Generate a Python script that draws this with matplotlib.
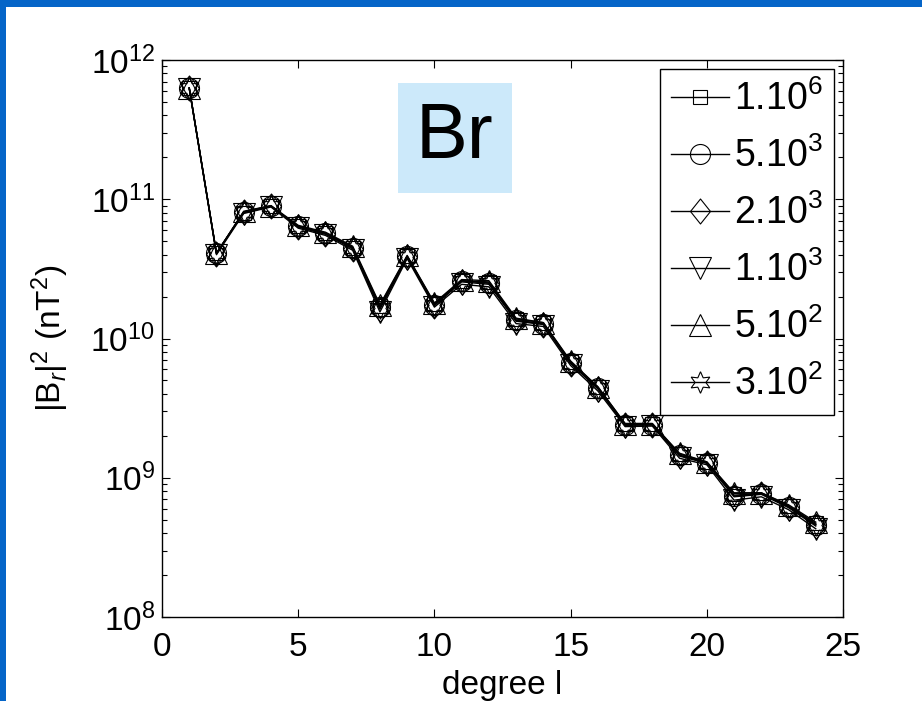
import numpy as np
import matplotlib
matplotlib.use("Agg")
import matplotlib.pyplot as plt
from matplotlib.patches import Rectangle
from matplotlib.path import Path

plt.rcParams['font.family'] = ['Liberation Sans', 'DejaVu Sans']
plt.rcParams['mathtext.fontset'] = 'custom'
plt.rcParams['mathtext.rm'] = 'Liberation Sans'
plt.rcParams['mathtext.it'] = 'Liberation Sans:italic'
plt.rcParams['mathtext.bf'] = 'Liberation Sans:bold'

# spherical harmonic degree
degree = np.arange(1, 25)

# |Br|^2 spectra (nT^2) for each damping value
br_1e6 = [6.3e11, 4.1e10, 8.0e10, 8.9e10, 6.4e10, 5.7e10, 4.5e10, 1.72e10, 3.9e10, 1.78e10, 2.6e10, 2.55e10,
          1.38e10, 1.30e10, 6.8e9, 4.5e9, 2.45e9, 2.45e9, 1.48e9, 1.30e9, 7.7e8, 7.8e8, 6.3e8, 4.7e8]
br_5e3 = [6.3e11, 4.1e10, 8.1e10, 8.9e10, 6.4e10, 5.7e10, 4.5e10, 1.68e10, 3.9e10, 1.75e10, 2.6e10, 2.5e10,
          1.35e10, 1.28e10, 6.7e9, 4.4e9, 2.4e9, 2.4e9, 1.45e9, 1.28e9, 7.4e8, 7.7e8, 6.2e8, 4.6e8]
br_2e3 = [6.3e11, 4.05e10, 8.1e10, 9.0e10, 6.3e10, 5.6e10, 4.4e10, 1.62e10, 3.85e10, 1.72e10, 2.55e10, 2.45e10,
          1.33e10, 1.26e10, 6.6e9, 4.35e9, 2.38e9, 2.4e9, 1.43e9, 1.27e9, 7.3e8, 7.6e8, 6.1e8, 4.5e8]
br_1e3 = [6.2e11, 4.0e10, 7.9e10, 8.8e10, 6.2e10, 5.5e10, 4.3e10, 1.55e10, 3.75e10, 1.68e10, 2.45e10, 2.35e10,
          1.28e10, 1.22e10, 6.4e9, 4.2e9, 2.33e9, 2.35e9, 1.38e9, 1.24e9, 6.9e8, 7.3e8, 5.9e8, 4.3e8]
br_5e2 = [6.3e11, 4.1e10, 8.2e10, 9.0e10, 6.5e10, 5.8e10, 4.6e10, 1.75e10, 3.95e10, 1.8e10, 2.65e10, 2.6e10,
          1.4e10, 1.3e10, 6.9e9, 4.5e9, 2.45e9, 2.45e9, 1.5e9, 1.3e9, 7.8e8, 7.8e8, 6.4e8, 4.8e8]
br_3e2 = [6.3e11, 4.1e10, 8.1e10, 8.9e10, 6.4e10, 5.7e10, 4.5e10, 1.65e10, 3.85e10, 1.75e10, 2.6e10, 2.5e10,
          1.35e10, 1.27e10, 6.7e9, 4.4e9, 2.4e9, 2.4e9, 1.45e9, 1.28e9, 7.5e8, 7.7e8, 6.2e8, 4.6e8]

labels = ['1.10$^6$', '5.10$^3$', '2.10$^3$', '1.10$^3$', '5.10$^2$', '3.10$^2$']
series = [br_1e6, br_5e3, br_2e3, br_1e3, br_5e2, br_3e2]

diamond = Path([(0, 1), (0.8, 0), (0, -1), (-0.8, 0), (0, 1)],
               [Path.MOVETO, Path.LINETO, Path.LINETO, Path.LINETO, Path.CLOSEPOLY])
markers = [('s', 10), ('o', 14.4), (diamond, 18), ('v', 15.5), ('^', 15.5), ((6, 1, 0), 15.5)]

fig = plt.figure(figsize=(9.22, 7.01), dpi=100)
fig.patch.set_facecolor('white')
# slide frame
fig.add_artist(Rectangle((0, 1 - 7 / 701), 1, 7 / 701, transform=fig.transFigure,
                         facecolor='#0565c8', edgecolor='none'))
fig.add_artist(Rectangle((0, 0), 6 / 922, 1, transform=fig.transFigure,
                         facecolor='#0565c8', edgecolor='none'))

ax = fig.add_axes([162 / 922, 1 - 617 / 701, 681 / 922, 557 / 701])

for vals, lab, (mk, ms) in zip(series, labels, markers):
    ax.semilogy(degree, vals, color='black', lw=1.0, marker=mk, ms=ms,
                mfc='none', mec='black', mew=0.8, label=lab)

ax.set_xlim(0, 25)
ax.set_ylim(1e8, 1e12)
ax.set_xticks([0, 5, 10, 15, 20, 25])
ax.tick_params(which='both', direction='in', top=True, right=True, labelsize=24, width=0.8)
ax.tick_params(axis='x', which='major', length=6, pad=11)
ax.tick_params(axis='y', which='major', length=6, pad=5)
ax.tick_params(axis='y', which='minor', length=3.5)
for sp in ax.spines.values():
    sp.set_linewidth(1.0)

ax.set_xlabel('degree l', fontsize=24)
ax.xaxis.set_label_coords(0.5, -0.096)
ax.set_ylabel('|B$_r$|$^2$ (nT$^2$)', fontsize=24)
ax.yaxis.set_label_coords(-0.134, 0.5)

# component tag
ax.add_patch(Rectangle((0.3465, 0.761), 0.1675, 0.1977, transform=ax.transAxes,
                       facecolor='#cce9fa', edgecolor='none', zorder=0))
ax.text(0.43, 0.86, 'Br', transform=ax.transAxes, fontsize=56, ha='center', va='center')

leg = ax.legend(loc='upper right', bbox_to_anchor=(834 / 922, 1 - 69 / 701),
                bbox_transform=fig.transFigure, borderaxespad=0, fontsize=27,
                fancybox=False, framealpha=1, edgecolor='black', handlelength=1.55,
                handletextpad=0.12, labelspacing=0.52, borderpad=0.3)
leg.get_frame().set_linewidth(1.0)

fig.savefig('out.png', dpi=100)
